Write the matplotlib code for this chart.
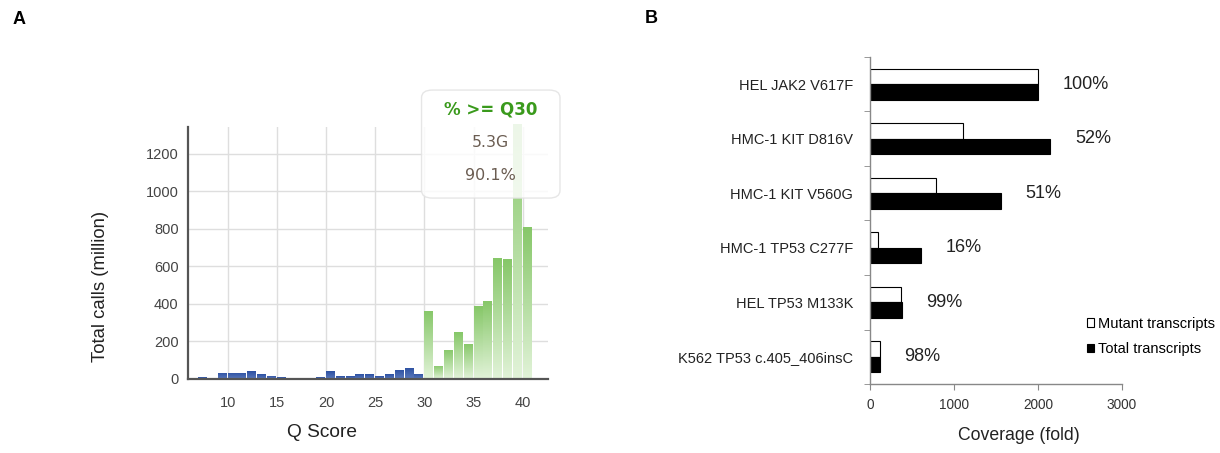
import numpy as np
import matplotlib
matplotlib.use("Agg")
import matplotlib.pyplot as plt
from matplotlib.colors import LinearSegmentedColormap
from matplotlib.patches import FancyBboxPatch

plt.rcParams['font.family'] = ['Liberation Sans', 'DejaVu Sans']

# panel A: Q score histogram (million calls)
q_low = [7, 8, 9, 10, 11, 12, 13, 14, 15, 16, 17, 18, 19,
         20, 21, 22, 23, 24, 25, 26, 27, 28, 29]
calls_low = [9, 5, 32, 33, 33, 42, 24, 16, 10, 3, 5, 6, 8,
             42, 14, 15, 25, 25, 15, 26, 50, 60, 28]
q_high = [30, 31, 32, 33, 34, 35, 36, 37, 38, 39, 40]
calls_high = [363, 71, 155, 249, 187, 389, 418, 644, 638, 1360, 812]
q_ticks = [10, 15, 20, 25, 30, 35, 40]
calls_ticks = [0, 200, 400, 600, 800, 1000, 1200]
box_lines = ["% >= Q30", "5.3G", "90.1%"]

# panel B: coverage per mutation
mutations = ["HEL JAK2 V617F", "HMC-1 KIT D816V", "HMC-1 KIT V560G",
             "HMC-1 TP53 C277F", "HEL TP53 M133K", "K562 TP53 c.405_406insC"]
mutant_cov = [2000, 1110, 785, 99, 373, 120]
total_cov = [2000, 2148, 1558, 606, 377, 118]
pct_labels = ["100%", "52%", "51%", "16%", "99%", "98%"]
cov_ticks = [0, 1000, 2000, 3000]


def gradient_bars(ax, xs, hs, top, bottom):
    cmap = LinearSegmentedColormap.from_list('grad', [bottom, top])
    grad = np.linspace(0, 1, 256).reshape(-1, 1)
    bars = ax.bar(xs, hs, width=0.9, align='edge', color='none',
                  edgecolor='none', zorder=2)
    for b in bars:
        x0, w, h = b.get_x(), b.get_width(), b.get_height()
        im = ax.imshow(grad, extent=[x0, x0 + w, 0, h], origin='lower',
                       cmap=cmap, aspect='auto', zorder=2)
        im.set_clip_path(b)
    return bars


fig = plt.figure(figsize=(12.2, 4.53), dpi=100)

# ---- panel A
axa = fig.add_axes([0.1543, 0.1634, 0.2951, 0.557])
gradient_bars(axa, q_low, calls_low, '#2c50a2', '#5a78ba')
gradient_bars(axa, q_high, calls_high, '#86c768', '#e2f3d9')
axa.set_xlim(6, 42.6)
axa.set_ylim(0, 1345)
axa.set_xticks(q_ticks)
axa.set_yticks(calls_ticks)
axa.grid(color='#dedede', lw=1)
axa.set_axisbelow(True)
for s in ['top', 'right']:
    axa.spines[s].set_visible(False)
for s in ['left', 'bottom']:
    axa.spines[s].set_color('#555555')
    axa.spines[s].set_linewidth(1.6)
axa.tick_params(length=0, labelsize=10.5, colors='#444444')
axa.tick_params(axis='x', pad=12)
axa.tick_params(axis='y', pad=7)
axa.set_ylabel("Total calls (million)", fontsize=13.3, color='#222222', va='center')
axa.yaxis.set_label_coords(-0.245, 0.365)
axa.set_xlabel("Q Score", fontsize=13.8, color='#222222', va='center')
axa.xaxis.set_label_coords(0.371, -0.214)

box = FancyBboxPatch((0.648, 0.717), 0.3845, 0.428,
                     boxstyle="round,pad=0,rounding_size=0.03",
                     transform=axa.transAxes, clip_on=False, zorder=5,
                     facecolor='white', alpha=0.85, edgecolor='#e2e2e2', lw=1)
axa.add_patch(box)
axa.text(0.84, 1.068, box_lines[0], transform=axa.transAxes, ha='center', va='center',
         fontsize=12, fontweight='bold', color='#3a9a1c', family='DejaVu Sans', zorder=6)
axa.text(0.84, 0.936, box_lines[1], transform=axa.transAxes, ha='center', va='center',
         fontsize=11.3, color='#6b5d52', family='DejaVu Sans', zorder=6)
axa.text(0.84, 0.805, box_lines[2], transform=axa.transAxes, ha='center', va='center',
         fontsize=11.5, color='#6b5d52', family='DejaVu Sans', zorder=6)

# ---- panel B
axb = fig.add_axes([0.7131, 0.1523, 0.2066, 0.7219])
yb = np.arange(len(mutations))
axb.barh(yb - 0.14, mutant_cov, height=0.28, color='white', edgecolor='black',
         lw=0.8, label='Mutant transcripts')
axb.barh(yb + 0.14, total_cov, height=0.28, color='black', edgecolor='black',
         lw=0.8, label='Total transcripts')
for y, t, p in zip(yb, total_cov, pct_labels):
    axb.text(t + 290, y, p, ha='left', va='center', fontsize=13, color='#222222')
axb.set_xlim(0, 3000)
axb.set_ylim(len(mutations) - 0.5, -0.5)
axb.set_xticks(cov_ticks)
axb.set_yticks(yb, mutations)
axb.set_yticks(np.arange(-0.5, len(mutations)), minor=True)
axb.tick_params(axis='y', which='major', length=0, pad=12, labelsize=10.5, colors='#222222')
axb.tick_params(axis='y', which='minor', length=4, color='#888888', direction='out')
axb.tick_params(axis='x', length=4, color='#888888', labelsize=9.8, colors='#333333', pad=6)
axb.tick_params(axis='x', color='#888888')
for s in ['top', 'right']:
    axb.spines[s].set_visible(False)
for s in ['left', 'bottom']:
    axb.spines[s].set_color('#888888')
    axb.spines[s].set_linewidth(1)
axb.set_xlabel("Coverage (fold)", fontsize=12.7, color='#222222', va='center')
axb.xaxis.set_label_coords(0.591, -0.156)
axb.legend(loc='center left', bbox_to_anchor=(1087 / 1220, 1 - 336.5 / 453),
           bbox_transform=fig.transFigure, frameon=False, borderpad=0,
           borderaxespad=0, fontsize=10.5, handlelength=0.5, handleheight=0.5,
           handletextpad=0.25, labelspacing=0.8)

fig.text(19.5 / 1220, 1 - 19 / 453, "A", fontsize=13, fontweight='bold', ha='center', va='center')
fig.text(651 / 1220, 1 - 18.5 / 453, "B", fontsize=13, fontweight='bold', ha='center', va='center')

fig.savefig("out.png", dpi=100)
